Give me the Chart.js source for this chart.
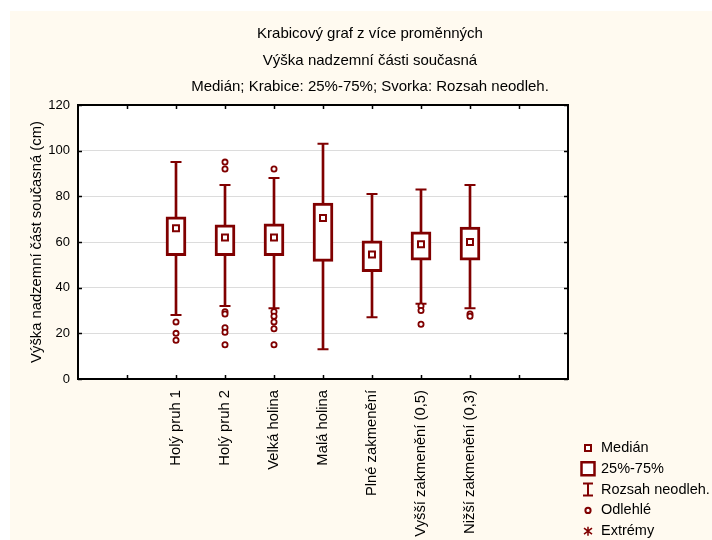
<!DOCTYPE html>
<html>
<head>
<meta charset="utf-8">
<script src="https://cdn.jsdelivr.net/npm/chart.js@4"></script>
<style>
  html, body { margin: 0; padding: 0; background: #fff; }
  #wrap { width: 712px; height: 540px; }
</style>
</head>
<body>
<div id="wrap"><canvas id="boxChart" width="712" height="540"></canvas></div>
<script>
const categories = ['Holý pruh 1', 'Holý pruh 2', 'Velká holina', 'Malá holina',
  'Plné zakmenění', 'Vyšší zakmenění (0,5)', 'Nižší zakmenění (0,3)'];

// whisker ends, quartiles and medians (cm)
const whiskerLow = [28, 32, 31, 13, 27, 33, 31];
const q1 = [54, 54, 54, 51.5, 47, 52, 52];
const medians = [66, 62, 62, 70.5, 54.5, 59, 60];
const q3 = [71, 67.5, 68, 77, 60.5, 64.5, 66.5];
const whiskerHigh = [95, 85, 88, 103, 81, 83, 85];

const outliers = [
  [25, 20, 17],
  [95, 92, 29.5, 28.5, 22.5, 20.5, 15],
  [92, 29.5, 27.5, 25, 22, 15],
  [],
  [],
  [32, 30, 24],
  [28.5, 27.5]
];
const extremes = [[], [], [], [], [], [], []];

const yTicks = [0, 20, 40, 60, 80, 100, 120];
const titleLines = ['Krabicový graf z více proměnných', 'Výška nadzemní části současná',
  'Medián; Krabice: 25%-75%; Svorka: Rozsah neodleh.'];
const legendLabels = ['Medián', '25%-75%', 'Rozsah neodleh.', 'Odlehlé', 'Extrémy'];
const yTitle = 'Výška nadzemní část současná (cm)';

// two empty slots on each side of the categories
const xLabels = ['', '', ...categories, '', ''];

const RED = '#800000';
const FONT = "'Liberation Sans', Arial, sans-serif";

const pts = (arr) => arr.map((v, i) => ({ x: categories[i], y: v }));
const ranges = (lo, hi) => lo.map((v, i) => ({ x: categories[i], y: [v, hi[i]] }));
const listPts = (lists) => lists.flatMap((l, i) => l.map(v => ({ x: categories[i], y: v })));

const backdrop = {
  id: 'backdrop',
  beforeDraw(chart) {
    const { ctx, chartArea: a } = chart;
    ctx.save();
    ctx.fillStyle = '#ffffff';
    ctx.fillRect(0, 0, chart.width, chart.height);
    ctx.fillStyle = '#fffaf0';
    ctx.fillRect(10, 11, chart.width - 10, chart.height - 11);
    ctx.fillStyle = '#ffffff';
    ctx.fillRect(a.left, a.top, a.right - a.left, a.bottom - a.top);
    ctx.restore();
  }
};

const frame = {
  id: 'frame',
  afterDraw(chart) {
    const { ctx, chartArea: a, scales } = chart;
    ctx.save();
    ctx.strokeStyle = '#000';
    ctx.lineWidth = 1.5;
    ctx.beginPath();
    yTicks.forEach(v => {
      const y = Math.round(scales.y.getPixelForValue(v)) + 0.5;
      ctx.moveTo(a.left, y); ctx.lineTo(a.left + 4, y);
      ctx.moveTo(a.right, y); ctx.lineTo(a.right - 4, y);
    });
    for (let i = 1; i < xLabels.length - 1; i++) {
      const x = Math.round(scales.x.getPixelForValue(i)) + 0.5;
      ctx.moveTo(x, a.top); ctx.lineTo(x, a.top + 4);
      ctx.moveTo(x, a.bottom); ctx.lineTo(x, a.bottom - 4);
    }
    ctx.stroke();
    ctx.lineWidth = 2;
    ctx.strokeRect(a.left, a.top, a.right - a.left, a.bottom - a.top);

    // titles
    ctx.fillStyle = '#000';
    ctx.font = '15px ' + FONT;
    ctx.textAlign = 'center';
    ctx.textBaseline = 'middle';
    titleLines.forEach((t, i) => ctx.fillText(t, 370, 34 + i * 26.5));

    // legend
    const lx = 588, tx = 601;
    ctx.font = '14.5px ' + FONT;
    ctx.textAlign = 'left';
    ctx.strokeStyle = RED;
    legendLabels.forEach((t, i) => {
      const y = 448 + i * 20.8;
      ctx.fillStyle = '#000';
      ctx.fillText(t, tx, y);
      ctx.fillStyle = '#fff';
      ctx.lineWidth = 2;
      ctx.beginPath();
      if (i === 0) {
        ctx.rect(lx - 3, y - 3, 6, 6); ctx.fill(); ctx.stroke();
      } else if (i === 1) {
        ctx.lineWidth = 2.5;
        ctx.rect(lx - 6.5, y - 6.5, 13, 13); ctx.fill(); ctx.stroke();
      } else if (i === 2) {
        ctx.moveTo(lx, y - 6); ctx.lineTo(lx, y + 6);
        ctx.moveTo(lx - 5, y - 6); ctx.lineTo(lx + 5, y - 6);
        ctx.moveTo(lx - 5, y + 6); ctx.lineTo(lx + 5, y + 6);
        ctx.stroke();
      } else if (i === 3) {
        ctx.arc(lx, y, 2.6, 0, Math.PI * 2); ctx.fill(); ctx.stroke();
      } else {
        ctx.lineWidth = 1.5;
        ctx.moveTo(lx, y - 4.5); ctx.lineTo(lx, y + 4.5);
        ctx.moveTo(lx - 4, y - 3); ctx.lineTo(lx + 4, y + 3);
        ctx.moveTo(lx - 4, y + 3); ctx.lineTo(lx + 4, y - 3);
        ctx.stroke();
      }
    });
    ctx.restore();
  }
};

const ctx = document.getElementById('boxChart').getContext('2d');

new Chart(ctx, {
  type: 'bar',
  data: {
    labels: xLabels,
    datasets: [
      {
        label: 'Rozsah neodleh.',
        type: 'bar',
        data: ranges(whiskerLow, whiskerHigh),
        backgroundColor: RED,
        borderWidth: 0,
        barThickness: 2,
        grouped: false,
        order: 5
      },
      {
        label: '25%-75%',
        type: 'bar',
        data: ranges(q1, q3),
        backgroundColor: '#ffffff',
        borderColor: RED,
        borderWidth: 3,
        borderSkipped: false,
        barThickness: 20,
        grouped: false,
        order: 4
      },
      {
        label: 'caps',
        type: 'line',
        data: [...pts(whiskerLow), ...pts(whiskerHigh)],
        showLine: false,
        pointStyle: 'line',
        pointRadius: 5.5,
        pointBorderWidth: 2,
        pointBorderColor: RED,
        order: 3
      },
      {
        label: 'Odlehlé',
        type: 'line',
        data: listPts(outliers),
        showLine: false,
        pointStyle: 'circle',
        pointRadius: 2.6,
        pointBorderWidth: 1.8,
        pointBorderColor: RED,
        pointBackgroundColor: '#ffffff',
        order: 2
      },
      {
        label: 'Extrémy',
        type: 'line',
        data: listPts(extremes),
        showLine: false,
        pointStyle: 'star',
        pointRadius: 4,
        pointBorderColor: RED,
        order: 2
      },
      {
        label: 'Medián',
        type: 'line',
        data: pts(medians),
        showLine: false,
        pointStyle: 'rect',
        pointRadius: 4.2,
        pointBorderWidth: 2,
        pointBorderColor: RED,
        pointBackgroundColor: '#ffffff',
        order: 1
      }
    ]
  },
  options: {
    responsive: false,
    animation: false,
    events: [],
    layout: { padding: { left: 10, top: 105, right: 144, bottom: 0 } },
    plugins: {
      legend: { display: false },
      title: { display: false },
      tooltip: { enabled: false }
    },
    scales: {
      x: {
        type: 'category',
        offset: false,
        grid: { display: false, drawTicks: false },
        border: { display: false },
        ticks: {
          autoSkip: false,
          maxRotation: 90,
          minRotation: 90,
          padding: 11,
          color: '#000',
          font: { family: FONT, size: 14.8 }
        },
        afterFit(s) { s.height = 161; }
      },
      y: {
        min: 0,
        max: 120,
        grid: { color: '#dcdcdc', lineWidth: 1, drawTicks: false },
        border: { display: false },
        afterBuildTicks(s) { s.ticks = yTicks.map(v => ({ value: v })); },
        ticks: {
          padding: 8,
          color: '#000',
          font: { family: FONT, size: 13 }
        },
        title: {
          display: true,
          text: yTitle,
          color: '#000',
          font: { family: FONT, size: 14.8 },
          padding: { top: 18, bottom: 0 }
        },
        afterFit(s) { s.width = 68; }
      }
    }
  },
  plugins: [backdrop, frame]
});
</script>
</body>
</html>
